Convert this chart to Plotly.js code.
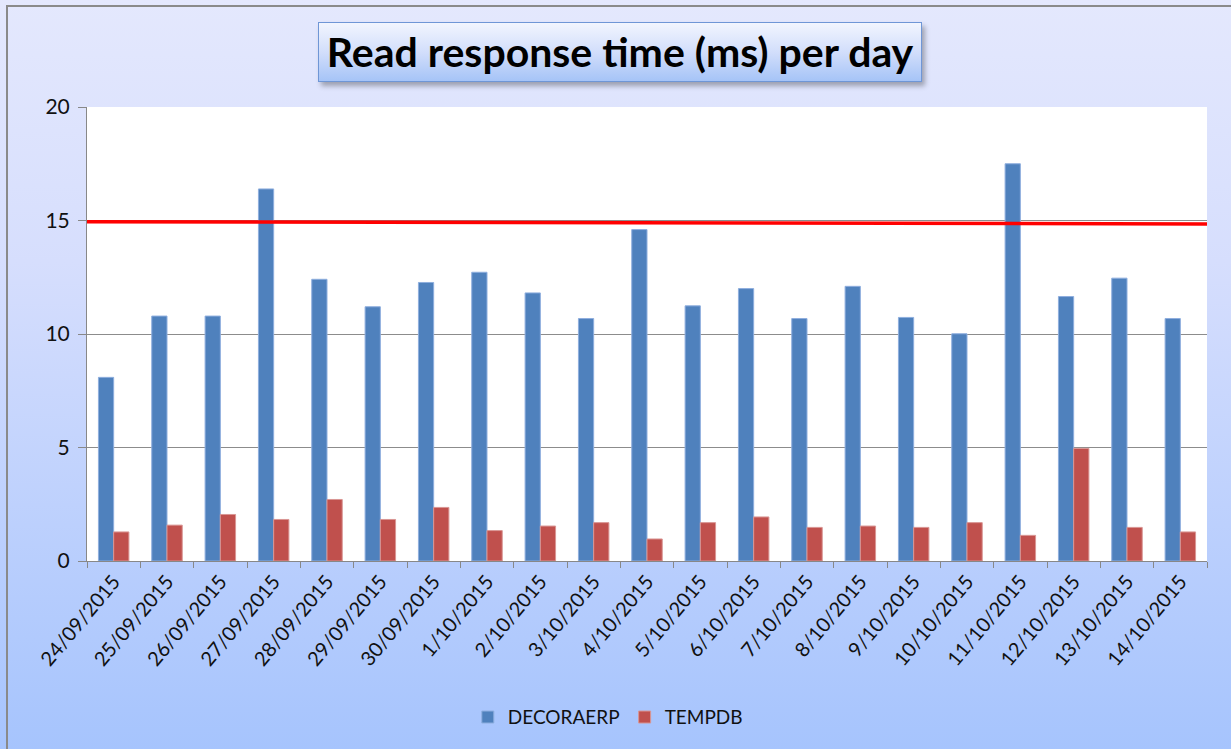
<!DOCTYPE html>
<html>
<head>
<meta charset="utf-8">
<script src="https://cdn.plot.ly/plotly-3.0.1.min.js"></script>
<style>
  html, body { margin: 0; padding: 0; }
  #wrap { position: relative; width: 1231px; height: 749px; overflow: hidden;
          background: linear-gradient(to bottom, #e4e8fd 0%, #d6defd 35%, #a6c4fd 100%); }
  #borderTop { position: absolute; left: 6px; top: 5px; width: 1225px; height: 2px; background: #8a8a8a; }
  #borderLeft { position: absolute; left: 6px; top: 5px; width: 2px; height: 744px; background: #8a8a8a; }
  #titleBox { position: absolute; left: 318px; top: 22px; width: 602px; height: 58px;
              background: linear-gradient(to bottom, #f2f5fe 0%, #d2defb 50%, #a6c4f7 100%);
              border: 1.5px solid #6f96d6; box-shadow: 3px 4px 5px rgba(0,0,0,0.3); }
  #chart { position: absolute; left: 0; top: 0; width: 1231px; height: 749px; }
</style>
</head>
<body>
<div id="wrap">
  <div id="borderTop"></div>
  <div id="borderLeft"></div>
  <div id="titleBox"></div>
  <div id="chart"></div>
</div>
<script>
const dates = ["24/09/2015","25/09/2015","26/09/2015","27/09/2015","28/09/2015","29/09/2015","30/09/2015",
  "1/10/2015","2/10/2015","3/10/2015","4/10/2015","5/10/2015","6/10/2015","7/10/2015","8/10/2015",
  "9/10/2015","10/10/2015","11/10/2015","12/10/2015","13/10/2015","14/10/2015"];
const decoraerp = [8.09,10.79,10.79,16.39,12.41,11.2,12.27,12.72,11.81,10.68,14.6,11.24,12.0,10.68,12.1,10.73,10.01,17.5,11.65,12.46,10.68];
const tempdb = [1.28,1.58,2.05,1.83,2.71,1.83,2.36,1.34,1.54,1.69,0.97,1.69,1.94,1.48,1.54,1.48,1.69,1.13,4.96,1.48,1.28];
const thresholdX = [0, 1];
const thresholdY = [14.95, 14.85];
const yTicks = [0, 5, 10, 15, 20];

const FONT = "Lato, 'Open Sans', sans-serif";

const traces = [
  { type: 'bar', name: 'DECORAERP', x: dates, y: decoraerp,
    marker: { color: '#4f81bd', line: { color: '#8eaede', width: 1 } } },
  { type: 'bar', name: 'TEMPDB', x: dates, y: tempdb,
    marker: { color: '#c0504d', line: { color: '#d99694', width: 1 } } },
  { type: 'scatter', mode: 'lines', x: thresholdX, y: thresholdY, xaxis: 'x2',
    showlegend: false, hoverinfo: 'skip', line: { color: '#ff0000', width: 3.5 } }
];

const layout = {
  width: 1231, height: 749,
  margin: { l: 87, r: 24, t: 107, b: 188 },
  paper_bgcolor: 'rgba(0,0,0,0)',
  plot_bgcolor: '#ffffff',
  barmode: 'group',
  bargap: 0.4286,
  bargroupgap: 0,
  title: { text: '<b>Read response time (ms) per day</b>', xref: 'container', yref: 'container',
           x: 0.5037, y: 1 - 53/749, xanchor: 'center', yanchor: 'middle',
           font: { family: FONT, size: 41, color: '#000000' } },
  xaxis: { type: 'category', tickangle: -50, tickson: 'boundaries', ticks: 'outside', ticklen: 6,
           tickcolor: '#888888', showline: true, linecolor: '#888888', linewidth: 1,
           showgrid: false, tickfont: { family: FONT, size: 20, color: '#111111' } },
  xaxis2: { overlaying: 'x', range: [0, 1], visible: false, fixedrange: true },
  yaxis: { range: [0, 20], tickvals: yTicks, ticks: 'outside', ticklen: 8, tickcolor: '#888888',
           showline: true, linecolor: '#888888', linewidth: 1, gridcolor: '#8c8c8c', gridwidth: 1,
           zeroline: false, tickfont: { family: FONT, size: 21, color: '#111111' }, ticklabelstandoff: 4 },
  legend: { orientation: 'h', x: 0.465, xanchor: 'center', y: -0.344, yanchor: 'middle',
            font: { family: FONT, size: 19, color: '#111111' }, bgcolor: 'rgba(0,0,0,0)', itemwidth: 30 },
  showlegend: true
};

Plotly.newPlot('chart', traces, layout, { displayModeBar: false, staticPlot: true });
</script>
</body>
</html>
